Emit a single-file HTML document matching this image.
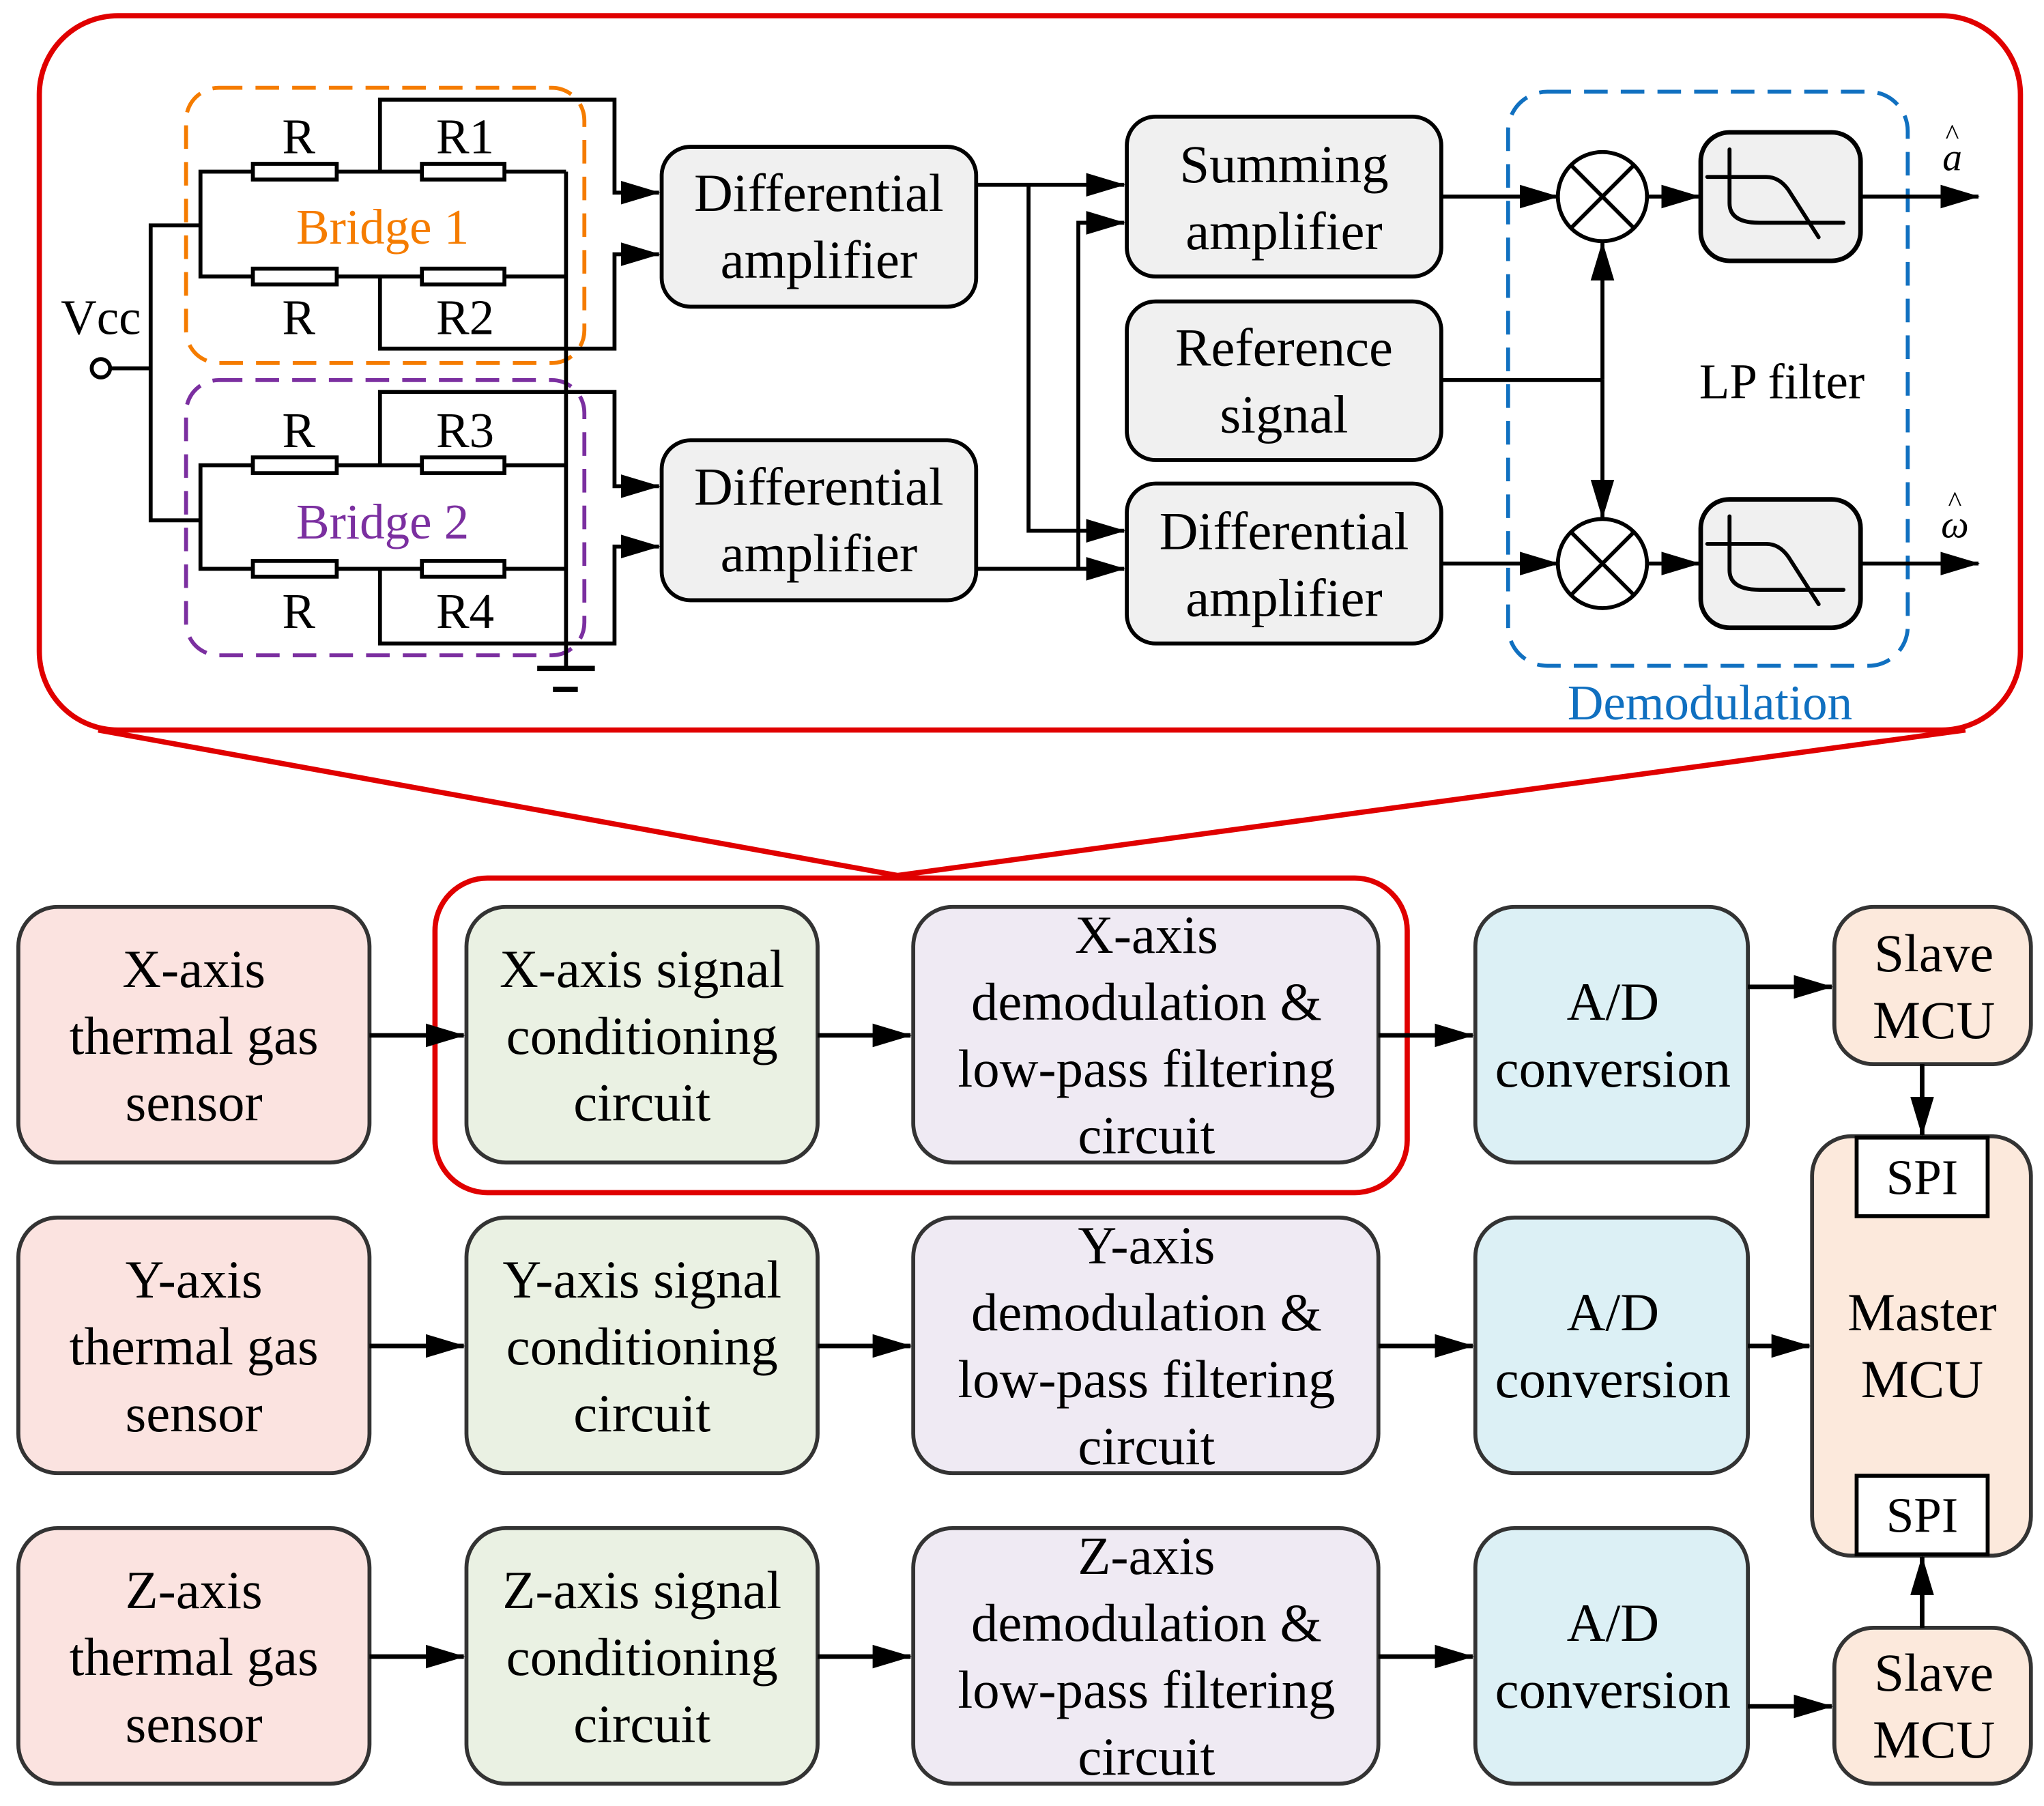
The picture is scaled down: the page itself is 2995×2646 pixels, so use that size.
<!DOCTYPE html>
<html><head><meta charset="utf-8"><style>
html,body{margin:0;padding:0;background:#fff;}
svg{display:block;}
text{font-family:"Liberation Serif",serif;fill:#000;}
</style></head><body>
<svg width="2995" height="2646" viewBox="0 0 1560 1378" preserveAspectRatio="none" xmlns="http://www.w3.org/2000/svg">
<defs>
<marker id="a" markerWidth="30" markerHeight="20" refX="29" refY="10" orient="auto" markerUnits="userSpaceOnUse">
<path d="M0,1 L30,10 L0,19 Z" fill="#000"/></marker>
</defs>
<rect width="1560" height="1378" fill="#fff"/>

<rect x="30" y="12" width="1512" height="545" rx="60" fill="none" stroke="#e00000" stroke-width="4"/>
<polyline points="75,557 685,668 1500,557" fill="none" stroke="#e00000" stroke-width="4"/>

<rect x="142" y="67" width="304" height="210" rx="25" fill="none" stroke="#f57c00" stroke-width="3" stroke-dasharray="18,10"/>
<rect x="142" y="290" width="304" height="210" rx="25" fill="none" stroke="#7b2fa0" stroke-width="3" stroke-dasharray="18,10"/>

<g stroke="#000" stroke-width="3" fill="none">
<circle cx="77" cy="281" r="7" fill="#fff"/>
<line x1="84" y1="281" x2="115" y2="281"/>
<polyline points="153,172 115,172 115,397 153,397"/>
<polyline points="193,131 153,131 153,211 193,211"/>
<line x1="257" y1="131" x2="322" y2="131"/><line x1="385" y1="131" x2="432" y2="131"/>
<line x1="257" y1="211" x2="322" y2="211"/><line x1="385" y1="211" x2="432" y2="211"/>
<polyline points="290,131 290,76 469,76 469,147 503,147" marker-end="url(#a)"/>
<polyline points="290,211 290,266 469,266 469,194 503,194" marker-end="url(#a)"/>
<polyline points="193,355 153,355 153,434 193,434"/>
<line x1="257" y1="355" x2="322" y2="355"/><line x1="385" y1="355" x2="432" y2="355"/>
<line x1="257" y1="434" x2="322" y2="434"/><line x1="385" y1="434" x2="432" y2="434"/>
<polyline points="290,355 290,299 469,299 469,371 503,371" marker-end="url(#a)"/>
<polyline points="290,434 290,491 469,491 469,417 503,417" marker-end="url(#a)"/>
<line x1="432" y1="131" x2="432" y2="510"/>
<line x1="410" y1="510" x2="454" y2="510" stroke-width="4"/>
<line x1="422" y1="526" x2="441" y2="526" stroke-width="4"/>
</g>
<g stroke="#000" stroke-width="3" fill="#fff">
<rect x="193" y="125" width="64" height="12"/><rect x="322" y="125" width="63" height="12"/>
<rect x="193" y="205" width="64" height="12"/><rect x="322" y="205" width="63" height="12"/>
<rect x="193" y="349" width="64" height="12"/><rect x="322" y="349" width="63" height="12"/>
<rect x="193" y="428" width="64" height="12"/><rect x="322" y="428" width="63" height="12"/>
</g>
<g font-size="38" text-anchor="middle">
<text x="77" y="255">Vcc</text>
<text x="228" y="117">R</text><text x="355" y="117">R1</text>
<text x="228" y="255">R</text><text x="355" y="255">R2</text>
<text x="228" y="341">R</text><text x="355" y="341">R3</text>
<text x="228" y="479">R</text><text x="355" y="479">R4</text>
<text x="292" y="186" style="fill:#f57c00">Bridge 1</text>
<text x="292" y="411" style="fill:#7b2fa0">Bridge 2</text>
</g>

<g stroke="#000" stroke-width="3" fill="#f0f0f0">
<rect x="505" y="112" width="240" height="122" rx="22"/>
<rect x="505" y="336" width="240" height="122" rx="22"/>
<rect x="860" y="89" width="240" height="122" rx="22"/>
<rect x="860" y="230" width="240" height="121" rx="22"/>
<rect x="860" y="369" width="240" height="122" rx="22"/>
<rect x="1298" y="101" width="122" height="98" rx="22" stroke-width="3.5"/>
<rect x="1298" y="381" width="122" height="98" rx="22" stroke-width="3.5"/>
</g>
<g font-size="41" text-anchor="middle">
<text x="625" y="161">Differential</text><text x="625" y="212">amplifier</text>
<text x="625" y="385">Differential</text><text x="625" y="436">amplifier</text>
<text x="980" y="139">Summing</text><text x="980" y="190">amplifier</text>
<text x="980" y="279">Reference</text><text x="980" y="330">signal</text>
<text x="980" y="419">Differential</text><text x="980" y="470">amplifier</text>
<text x="1360" y="304" font-size="38">LP filter</text>
<text x="1305" y="549" font-size="38" style="fill:#1070c0">Demodulation</text>
<text x="1490" y="130" font-size="30" font-style="italic">a</text>
<text x="1490" y="110" font-size="22">^</text>
<text x="1492" y="410" font-size="30" font-style="italic">ω</text>
<text x="1492" y="390" font-size="22">^</text>
</g>
<rect x="1151" y="70" width="305" height="438" rx="30" fill="none" stroke="#1070c0" stroke-width="3" stroke-dasharray="18,10"/>

<g stroke="#000" stroke-width="3" fill="none">
<polyline points="745,141 858,141" marker-end="url(#a)"/>
<polyline points="785,141 785,405 858,405" marker-end="url(#a)"/>
<polyline points="745,434 858,434" marker-end="url(#a)"/>
<polyline points="823,434 823,170 858,170" marker-end="url(#a)"/>
<line x1="1100" y1="150" x2="1189" y2="150" marker-end="url(#a)"/>
<line x1="1100" y1="430" x2="1189" y2="430" marker-end="url(#a)"/>
<line x1="1100" y1="290" x2="1223" y2="290"/>
<line x1="1223" y1="290" x2="1223" y2="185" marker-end="url(#a)"/>
<line x1="1223" y1="290" x2="1223" y2="395" marker-end="url(#a)"/>
<circle cx="1223" cy="150" r="34" fill="#fff"/>
<circle cx="1223" cy="430" r="34" fill="#fff"/>
<line x1="1199" y1="126" x2="1247" y2="174"/><line x1="1247" y1="126" x2="1199" y2="174"/>
<line x1="1199" y1="406" x2="1247" y2="454"/><line x1="1247" y1="406" x2="1199" y2="454"/>
<line x1="1257" y1="150" x2="1297" y2="150" marker-end="url(#a)"/>
<line x1="1257" y1="430" x2="1297" y2="430" marker-end="url(#a)"/>
<line x1="1420" y1="150" x2="1510" y2="150" marker-end="url(#a)"/>
<line x1="1420" y1="430" x2="1510" y2="430" marker-end="url(#a)"/>
<g stroke-width="3" stroke-linecap="round">
<path d="M1320,114 V155 Q1320,170 1343,170 H1407"/>
<path d="M1303,135 H1348 Q1358,135 1365,145 L1388,181"/>
<path d="M1320,394 V435 Q1320,450 1343,450 H1407"/>
<path d="M1303,415 H1348 Q1358,415 1365,425 L1388,461"/>
</g>
</g>

<rect x="332" y="670" width="742" height="240" rx="40" fill="none" stroke="#e00000" stroke-width="4"/>

<g stroke="#333" stroke-width="3">
<rect x="14" y="692" width="268" height="195" rx="30" fill="#fbe3e0"/>
<rect x="14" y="929" width="268" height="195" rx="30" fill="#fbe3e0"/>
<rect x="14" y="1166" width="268" height="195" rx="30" fill="#fbe3e0"/>
<rect x="356" y="692" width="268" height="195" rx="30" fill="#eaf1e3"/>
<rect x="356" y="929" width="268" height="195" rx="30" fill="#eaf1e3"/>
<rect x="356" y="1166" width="268" height="195" rx="30" fill="#eaf1e3"/>
<rect x="697" y="692" width="355" height="195" rx="30" fill="#efeaf3"/>
<rect x="697" y="929" width="355" height="195" rx="30" fill="#efeaf3"/>
<rect x="697" y="1166" width="355" height="195" rx="30" fill="#efeaf3"/>
<rect x="1126" y="692" width="208" height="195" rx="30" fill="#dcf0f5"/>
<rect x="1126" y="929" width="208" height="195" rx="30" fill="#dcf0f5"/>
<rect x="1126" y="1166" width="208" height="195" rx="30" fill="#dcf0f5"/>
<rect x="1400" y="692" width="150" height="120" rx="30" fill="#fce9dc"/>
<rect x="1383" y="867" width="167" height="320" rx="30" fill="#fce9dc"/>
<rect x="1400" y="1242" width="150" height="119" rx="30" fill="#fce9dc"/>
</g>
<g stroke="#000" stroke-width="3" fill="#fff">
<rect x="1417" y="868" width="100" height="60"/>
<rect x="1417" y="1126" width="100" height="60"/>
</g>

<g stroke="#000" stroke-width="3.5" fill="none">
<line x1="282" y1="790" x2="354" y2="790" marker-end="url(#a)"/>
<line x1="624" y1="790" x2="695" y2="790" marker-end="url(#a)"/>
<line x1="1052" y1="790" x2="1124" y2="790" marker-end="url(#a)"/>
<line x1="282" y1="1027" x2="354" y2="1027" marker-end="url(#a)"/>
<line x1="624" y1="1027" x2="695" y2="1027" marker-end="url(#a)"/>
<line x1="1052" y1="1027" x2="1124" y2="1027" marker-end="url(#a)"/>
<line x1="282" y1="1264" x2="354" y2="1264" marker-end="url(#a)"/>
<line x1="624" y1="1264" x2="695" y2="1264" marker-end="url(#a)"/>
<line x1="1052" y1="1264" x2="1124" y2="1264" marker-end="url(#a)"/>
<line x1="1334" y1="753" x2="1398" y2="753" marker-end="url(#a)"/>
<line x1="1334" y1="1027" x2="1381" y2="1027" marker-end="url(#a)"/>
<line x1="1334" y1="1302" x2="1398" y2="1302" marker-end="url(#a)"/>
<line x1="1467" y1="812" x2="1467" y2="866" marker-end="url(#a)"/>
<line x1="1467" y1="1242" x2="1467" y2="1188" marker-end="url(#a)"/>
</g>

<g font-size="41" text-anchor="middle">
<text x="148" y="753">X-axis</text><text x="148" y="804">thermal gas</text><text x="148" y="855">sensor</text>
<text x="148" y="990">Y-axis</text><text x="148" y="1041">thermal gas</text><text x="148" y="1092">sensor</text>
<text x="148" y="1227">Z-axis</text><text x="148" y="1278">thermal gas</text><text x="148" y="1329">sensor</text>
<text x="490" y="753">X-axis signal</text><text x="490" y="804">conditioning</text><text x="490" y="855">circuit</text>
<text x="490" y="990">Y-axis signal</text><text x="490" y="1041">conditioning</text><text x="490" y="1092">circuit</text>
<text x="490" y="1227">Z-axis signal</text><text x="490" y="1278">conditioning</text><text x="490" y="1329">circuit</text>
<text x="875" y="727">X-axis</text><text x="875" y="778">demodulation &amp;</text><text x="875" y="829">low-pass filtering</text><text x="875" y="880">circuit</text>
<text x="875" y="964">Y-axis</text><text x="875" y="1015">demodulation &amp;</text><text x="875" y="1066">low-pass filtering</text><text x="875" y="1117">circuit</text>
<text x="875" y="1201">Z-axis</text><text x="875" y="1252">demodulation &amp;</text><text x="875" y="1303">low-pass filtering</text><text x="875" y="1354">circuit</text>
<text x="1231" y="778">A/D</text><text x="1231" y="829">conversion</text>
<text x="1231" y="1015">A/D</text><text x="1231" y="1066">conversion</text>
<text x="1231" y="1252">A/D</text><text x="1231" y="1303">conversion</text>
<text x="1476" y="741">Slave</text><text x="1476" y="792">MCU</text>
<text x="1467" y="1015">Master</text><text x="1467" y="1066">MCU</text>
<text x="1476" y="1290">Slave</text><text x="1476" y="1341">MCU</text>
<text x="1467" y="911" font-size="38">SPI</text>
<text x="1467" y="1169" font-size="38">SPI</text>
</g>
</svg>
</body></html>
